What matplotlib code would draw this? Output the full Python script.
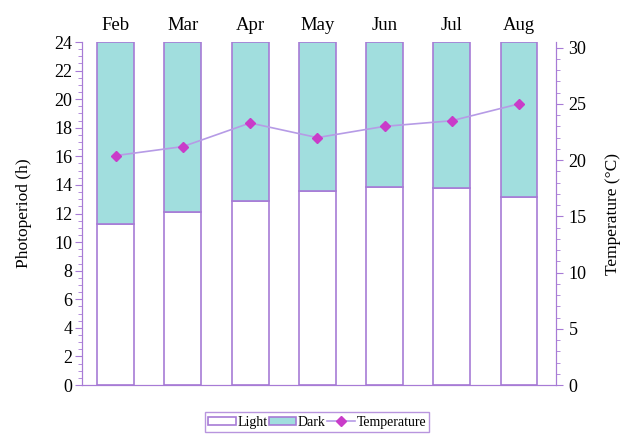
import matplotlib.pyplot as plt
from matplotlib.ticker import MultipleLocator

plt.rcParams['font.family'] = ['Liberation Serif', 'DejaVu Serif']

months = ['Feb', 'Mar', 'Apr', 'May', 'Jun', 'Jul', 'Aug']
light = [11.25, 12.1, 12.9, 13.6, 13.85, 13.8, 13.15]
dark = [24 - v for v in light]
temperature = [20.4, 21.2, 23.3, 22.0, 23.0, 23.5, 25.0]

purple = '#a77bd6'
teal = '#a1dede'

fig = plt.figure(figsize=(6.24, 4.34), dpi=100)
ax = fig.add_axes([0.1314, 0.1129, 0.7596, 0.7903])
x = list(range(len(months)))

b1 = ax.bar(x, light, width=0.55, color='white', edgecolor=purple, linewidth=1.2, label='Light')
b2 = ax.bar(x, dark, width=0.55, bottom=light, color=teal, edgecolor=purple, linewidth=1.2, label='Dark')
ax.set_xlim(-0.5, 6.55)
ax.set_ylim(0, 24)
ax.yaxis.set_major_locator(MultipleLocator(2))
ax.yaxis.set_minor_locator(MultipleLocator(0.5))
ax.set_ylabel('Photoperiod (h)', fontsize=12.5, labelpad=16)

# month names along the top
ax.set_xticks(x)
ax.set_xticklabels(months, fontsize=13.5)
ax.xaxis.tick_top()
ax.tick_params(axis='x', length=0, pad=6)
ax.tick_params(axis='y', which='major', length=5, color=purple, labelsize=13, pad=2)
ax.tick_params(axis='y', which='minor', length=3, color=purple)
for s in ['left', 'right', 'bottom']:
    ax.spines[s].set_color(purple)
ax.spines['top'].set_visible(False)

ax2 = ax.twinx()
ln, = ax2.plot(x, temperature, color='#b69be6', linewidth=1.2, marker='D', markersize=5,
               markerfacecolor='#c93cc9', markeredgecolor='#c93cc9', label='Temperature')
ax2.set_ylim(0, 30.5)
ax2.yaxis.set_major_locator(MultipleLocator(5))
ax2.yaxis.set_minor_locator(MultipleLocator(1))
ax2.tick_params(axis='y', which='major', length=5, color=purple, labelsize=13, pad=4)
ax2.tick_params(axis='y', which='minor', length=3, color=purple)
ax2.set_ylabel('Temperature (°C)', fontsize=12.5, labelpad=13)
for s in ['left', 'right', 'bottom']:
    ax2.spines[s].set_color(purple)
ax2.spines['top'].set_visible(False)

leg = fig.legend([b1, b2, ln], ['Light', 'Dark', 'Temperature'], loc='lower center',
                 bbox_to_anchor=(0.508, -0.012), ncol=3, fontsize=10, frameon=True, fancybox=False,
                 handlelength=2.0, handleheight=0.5, handletextpad=0.1, columnspacing=0.1,
                 borderpad=0.25)
leg.get_frame().set_edgecolor(purple)

fig.savefig('out.png', dpi=100)
